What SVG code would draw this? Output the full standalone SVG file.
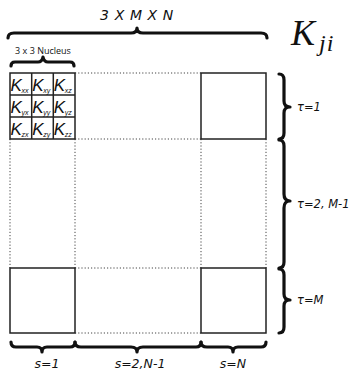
<svg xmlns="http://www.w3.org/2000/svg" width="351" height="371" viewBox="0 0 351 371">
<style>
.box{fill:none;stroke:#222;stroke-width:1.5}
.dot{fill:none;stroke:#444;stroke-width:1;stroke-dasharray:1.2 2}
.brace{fill:none;stroke:#111;stroke-width:3.2;stroke-linecap:round;stroke-linejoin:round}
.lab{font-family:"DejaVu Sans",sans-serif;font-style:italic;fill:#111}
.k{font-family:"Liberation Sans",Arial,sans-serif;font-style:italic;fill:#111}
.math{font-family:"Liberation Serif","DejaVu Serif",serif;font-style:italic;fill:#111}
</style>
<rect width="351" height="371" fill="#fff"/>
<g id="connectors">
<path class="dot" d="M75,73H201M75,139H201M75,268H201M75,333H201"/>
<path class="dot" d="M10,139V268M75,139V268M201,139V268M266,139V268"/>
</g>
<g id="braces">
<path class="brace" d="M8,38 Q8,33 14,33 L131,33 Q137,33 137,28 Q137,33 143,33 L261,33 Q267,33 267,38"/>
<path class="brace" d="M11,66 Q11,62 15,62 L38,62 Q42,62 43,57 Q44,62 48,62 L70,62 Q74,62 74,66"/>
<path class="brace" d="M279,74 Q284,74 284,80 L284,101 Q284,107 290,107 Q284,107 284,113 L284,133 Q284,139 279,139"/>
<path class="brace" d="M279,140 Q284,140 284,146 L284,194 Q284,201 290,201 Q284,201 284,208 L284,262 Q284,268 279,268"/>
<path class="brace" d="M279,269 Q284,269 284,275 L284,294 Q284,300 290,300 Q284,300 284,306 L284,327 Q284,333 279,333"/>
<path class="brace" d="M11,342 Q11,347 16,347 L37,347 Q42,347 42,352 Q42,347 47,347 L70,347 Q75,347 75,342"/>
<path class="brace" d="M75,342 Q75,347 81,347 L131,347 Q137,347 137,352 Q137,347 143,347 L196,347 Q201,347 201,342"/>
<path class="brace" d="M201,342 Q201,347 207,347 L228,347 Q233,347 233,352 Q233,347 238,347 L261,347 Q266,347 266,342"/>
</g>
<g id="nucleus">
<rect class="box" x="10" y="73" width="65" height="66"/>
<path d="M31.7,73V139M53.3,73V139M10,95H75M10,117H75" stroke="#222" stroke-width="1.5"/>
<g class="k" font-size="17">
<text x="10.5" y="91">K</text><text x="32.2" y="91">K</text><text x="53.8" y="91">K</text>
<text x="10.5" y="113">K</text><text x="32.2" y="113">K</text><text x="53.8" y="113">K</text>
<text x="10.5" y="135">K</text><text x="32.2" y="135">K</text><text x="53.8" y="135">K</text>
</g>
<g class="k" font-size="7">
<text x="21.5" y="93">xx</text><text x="43.2" y="93">xy</text><text x="64.8" y="93">xz</text>
<text x="21.5" y="115">yx</text><text x="43.2" y="115">yy</text><text x="64.8" y="115">yz</text>
<text x="21.5" y="137">zx</text><text x="43.2" y="137">zy</text><text x="64.8" y="137">zz</text>
</g>
</g>
<g id="box-top-right"><rect class="box" x="201" y="73" width="65" height="66"/></g>
<g id="box-bottom-left"><rect class="box" x="10" y="268" width="65" height="65"/></g>
<g id="box-bottom-right"><rect class="box" x="201" y="268" width="65" height="65"/></g>
<g id="labels">
<text class="lab" x="137" y="20" font-size="14" text-anchor="middle" letter-spacing="0.6">3 X M X N</text>
<text x="43" y="54" font-family="'Open Sans','DejaVu Sans',sans-serif" font-size="9" text-anchor="middle" fill="#111">3 x 3 Nucleus</text>
<text class="math" x="291" y="45" font-size="36">K</text>
<text class="math" x="319" y="51" font-size="24" letter-spacing="1">ji</text>
<text class="lab" x="297" y="111" font-size="11.5">τ=1</text>
<text class="lab" x="297" y="208" font-size="11.5">τ=2, M-1</text>
<text class="lab" x="297" y="304" font-size="11.5">τ=M</text>
<text class="lab" x="47" y="368" font-size="12.5" text-anchor="middle">s=1</text>
<text class="lab" x="140" y="368" font-size="12.5" text-anchor="middle">s=2,N-1</text>
<text class="lab" x="233" y="368" font-size="12.5" text-anchor="middle">s=N</text>
</g>
</svg>
